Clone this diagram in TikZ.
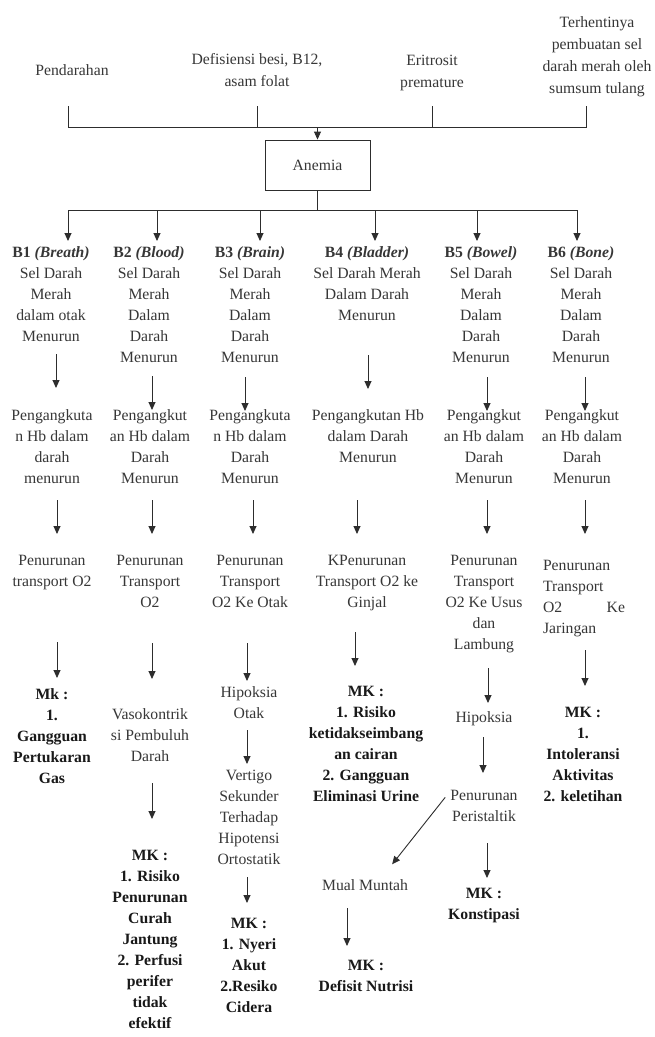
\documentclass[tikz,border=0pt]{standalone}
\usepackage{fontspec}
\setmainfont{Liberation Serif}
\usetikzlibrary{arrows.meta}
\definecolor{txt}{RGB}{55,55,55}
\definecolor{lncol}{RGB}{45,45,45}
\begin{document}
\begin{tikzpicture}[x=1pt,y=-1pt,
  tx/.style={anchor=north,align=center,inner sep=0pt,text=txt,font=\fontsize{15.7}{21}\selectfont,execute at begin node=\strut,execute at end node=\strut},
  tw/.style={tx,font=\fontsize{15.7}{22}\selectfont},
  bx/.style={tx,text=black!90,font=\fontsize{15.7}{21}\selectfont\bfseries},
  wire/.style={draw=lncol,line width=0.9pt},
  arr/.style={wire,-{Triangle[length=8pt,width=7pt]}}]
\useasboundingbox[fill=white] (0,0) rectangle (655,1037);

% causes
\node[tx] (pend) at (72,60.3) {Pendarahan};
\node[tw] (def) at (257,52.8) {Defisiensi besi, B12,\\asam folat};
\node[tw] (eri) at (432,54.8) {Eritrosit\\premature};
\node[tw] (ter) at (597,16.8) {Terhentinya\\pembuatan sel\\darah merah oleh\\sumsum tulang};

\node[draw=lncol,line width=0.9pt,minimum width=105pt,minimum height=50pt,inner sep=0pt,text=txt,font=\fontsize{15.7}{21}\selectfont] (anemia) at (317.5,165) {Anemia};

\coordinate (t1) at (68,106);
\coordinate (t2) at (257,106);
\coordinate (t3) at (432,106);
\coordinate (t4) at (586,106);
\coordinate (j1) at (68,127);
\coordinate (j2) at (257,127);
\coordinate (j3) at (432,127);
\coordinate (j4) at (586,127);
\coordinate (jm) at (317.5,127);
\draw[wire] (t1) -- (j1) -- (j4) -- (t4);
\draw[wire] (t2) -- (j2);
\draw[wire] (t3) -- (j3);
\draw[arr] (jm) -- (anemia.north);

\coordinate (hm) at (317.5,210);
\coordinate (h1) at (68,210);
\coordinate (h6) at (577,210);
\draw[wire] (anemia.south) -- (hm);
\draw[wire] (h1) -- (h6);
\foreach \x in {68,157,260,375,477,577} \draw[arr] (\x,210) -- (\x,241);

% B1
\node[tx] (b11) at (51,246.3) {\textbf{B1 \textit{(Breath)}}\\Sel Darah\\Merah\\dalam otak\\Menurun};
\node[tx] (b12) at (52,409.3) {Pengangkuta\\n Hb dalam\\darah\\menurun};
\node[tx] (b13) at (52,555.3) {Penurunan\\transport O2};
\node[bx] (b14) at (52,688.3) {Mk :\\1.\\Gangguan\\Pertukaran\\Gas};
\draw[arr] (56,354) -- (56,388);
\draw[arr] (57,500) -- (57,534);
\draw[arr] (57,642) -- (57,678);

% B2
\node[tx] (b21) at (149,246.3) {\textbf{B2 \textit{(Blood)}}\\Sel Darah\\Merah\\Dalam\\Darah\\Menurun};
\node[tx] (b22) at (150,409.3) {Pengangkut\\an Hb dalam\\Darah\\Menurun};
\node[tx] (b23) at (150,555.3) {Penurunan\\Transport\\O2};
\node[tx] (b24) at (150,708.3) {Vasokontrik\\si Pembuluh\\Darah};
\node[bx] (b25) at (150,850.3) {MK :\\1. Risiko\\Penurunan\\Curah\\Jantung\\2. Perfusi\\perifer\\tidak\\efektif};
\draw[arr] (152,376) -- (152,410);
\draw[arr] (152,500) -- (152,534);
\draw[arr] (152,643) -- (152,679);
\draw[arr] (152,783) -- (152,819);

% B3
\node[tx] (b31) at (250,246.3) {\textbf{B3 \textit{(Brain)}}\\Sel Darah\\Merah\\Dalam\\Darah\\Menurun};
\node[tx] (b32) at (250,409.3) {Pengangkuta\\n Hb dalam\\Darah\\Menurun};
\node[tx] (b33) at (250,555.3) {Penurunan\\Transport\\O2 Ke Otak};
\node[tx] (b34) at (249,686.3) {Hipoksia\\Otak};
\node[tx] (b35) at (249,770.3) {Vertigo\\Sekunder\\Terhadap\\Hipotensi\\Ortostatik};
\node[bx] (b36) at (249,918.3) {MK :\\1. Nyeri\\Akut\\2.Resiko\\Cidera};
\draw[arr] (245,377) -- (245,411);
\draw[arr] (253,500) -- (253,534);
\draw[arr] (247,643) -- (247,681);
\draw[arr] (247,730) -- (247,764);
\draw[arr] (247,877) -- (247,903);

% B4
\node[tx] (b41) at (367,246.3) {\textbf{B4 \textit{(Bladder)}}\\Sel Darah Merah\\Dalam Darah\\Menurun};
\node[tx] (b42) at (368,409.3) {Pengangkutan Hb\\dalam Darah\\Menurun};
\node[tx] (b43) at (367,555.3) {KPenurunan\\Transport O2 ke\\Ginjal};
\node[bx] (b44) at (366,686.3) {MK :\\1. Risiko\\ketidakseimbang\\an cairan\\2. Gangguan\\Eliminasi Urine};
\node[tx] (mual) at (365,875.3) {Mual Muntah};
\node[bx] (b46) at (366,960.3) {MK :\\Defisit Nutrisi};
\draw[arr] (368,355) -- (368,389);
\draw[arr] (357,500) -- (357,534);
\draw[arr] (355,632) -- (355,666);
\draw[arr] (347,908) -- (347,946);

% B5
\node[tx] (b51) at (481,246.3) {\textbf{B5 \textit{(Bowel)}}\\Sel Darah\\Merah\\Dalam\\Darah\\Menurun};
\node[tx] (b52) at (484,409.3) {Pengangkut\\an Hb dalam\\Darah\\Menurun};
\node[tx] (b53) at (484,555.3) {Penurunan\\Transport\\O2 Ke Usus\\dan\\Lambung};
\node[tx] (b54) at (484,707.3) {Hipoksia};
\node[tx] (b55) at (484,790.3) {Penurunan\\Peristaltik};
\node[bx] (b56) at (484,888.3) {MK :\\Konstipasi};
\draw[arr] (487,377) -- (487,411);
\draw[arr] (487,500) -- (487,534);
\draw[arr] (488,668) -- (488,703);
\draw[arr] (483,737) -- (483,773);
\draw[arr] (487,843) -- (487,878);
\draw[arr] ([shift={(-5,7)}]b55.north west) -- ([shift={(-16,-11)}]mual.north east);

% B6
\node[tx] (b61) at (581,246.3) {\textbf{B6 \textit{(Bone)}}\\Sel Darah\\Merah\\Dalam\\Darah\\Menurun};
\node[tx] (b62) at (582,409.3) {Pengangkut\\an Hb dalam\\Darah\\Menurun};
\node[tx,align=left,text width=82pt] (b63) at (584,555.3) {Penurunan\\Transport\\O2\hfill Ke\\Jaringan};
\node[bx] (b64) at (583,707.3) {MK :\\1.\\Intoleransi\\Aktivitas\\2. keletihan};
\draw[arr] (585,377) -- (585,411);
\draw[arr] (585,500) -- (585,534);
\draw[arr] (585,650) -- (585,686);
\end{tikzpicture}
\end{document}
